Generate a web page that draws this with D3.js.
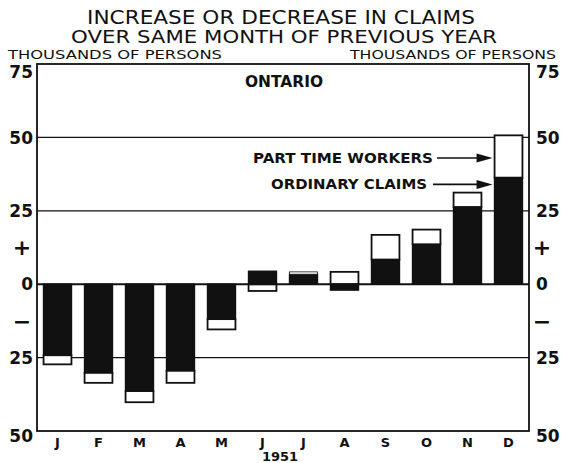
<!DOCTYPE html>
<html>
<head>
<meta charset="utf-8">
<script src="https://cdn.jsdelivr.net/npm/d3@7"></script>
<style>
  html, body { margin: 0; padding: 0; background: #fff; }
  svg text { font-family: "DejaVu Sans", "Liberation Sans", sans-serif; fill: #111; }
</style>
</head>
<body>
<div id="chart"></div>
<script>
const months = ['J', 'F', 'M', 'A', 'M', 'J', 'J', 'A', 'S', 'O', 'N', 'D'];
const ordinary = [-24.2, -30.2, -36.4, -29.5, -11.9, 4.4, 3.4, -2.0, 8.4, 13.6, 26.3, 36.3];
const partTime = [-3.1, -3.4, -3.8, -4.1, -3.5, -2.3, 0.8, 4.2, 8.4, 5.0, 4.9, 14.4];
const yTicks = [75, 50, 25, 0, -25, -50];
const signTicks = [[12.5, '+'], [-12.5, '−']];
const gridVals = [50, 25, -25];

const W = 570, H = 463, m = { t: 64, r: 41, b: 32, l: 37 };
const svg = d3.select('#chart').append('svg').attr('width', W).attr('height', H);

const x = d3.scaleBand().domain(d3.range(12)).range([m.l, W - m.r]).paddingInner(0.32).paddingOuter(0.16);
const y = d3.scaleLinear().domain([-50, 75]).range([H - m.b, m.t]);

// titles
svg.append('text').attr('x', 281).attr('y', 24).attr('text-anchor', 'middle')
  .attr('font-size', 19).attr('textLength', 388).attr('lengthAdjust', 'spacingAndGlyphs')
  .text('INCREASE OR DECREASE IN CLAIMS');
svg.append('text').attr('x', 284).attr('y', 43).attr('text-anchor', 'middle')
  .attr('font-size', 18).attr('textLength', 426).attr('lengthAdjust', 'spacingAndGlyphs')
  .text('OVER SAME MONTH OF PREVIOUS YEAR');
svg.append('text').attr('x', 8).attr('y', 59).attr('font-size', 12)
  .attr('textLength', 214).attr('lengthAdjust', 'spacingAndGlyphs').text('THOUSANDS OF PERSONS');
svg.append('text').attr('x', 556).attr('y', 59).attr('font-size', 12).attr('text-anchor', 'end')
  .attr('textLength', 206).attr('lengthAdjust', 'spacingAndGlyphs').text('THOUSANDS OF PERSONS');

// gridlines
svg.append('g').selectAll('line').data(gridVals).join('line')
  .attr('x1', m.l).attr('x2', W - m.r).attr('y1', d => y(d)).attr('y2', d => y(d))
  .attr('stroke', '#111').attr('stroke-width', 1.2);

// bars: black = ordinary claims, white = part time workers
const bars = svg.append('g').selectAll('g').data(months.map((mo, i) => ({ i, o: ordinary[i], p: partTime[i] }))).join('g');
bars.append('rect')
  .attr('x', d => x(d.i)).attr('width', x.bandwidth())
  .attr('y', d => y(Math.max(0, d.o))).attr('height', d => Math.abs(y(d.o) - y(0)))
  .attr('fill', '#111').attr('stroke', '#111').attr('stroke-width', 1.5);
bars.append('rect')
  .attr('x', d => x(d.i)).attr('width', x.bandwidth())
  .attr('y', d => {
    const base = Math.sign(d.p) === Math.sign(d.o) ? d.o : 0;
    return y(Math.max(base, base + d.p));
  })
  .attr('height', d => Math.abs(y(d.p) - y(0)))
  .attr('fill', '#fff').attr('stroke', '#111').attr('stroke-width', d => Math.abs(d.p) < 2 ? 0.8 : 1.8);

// zero line
svg.append('line').attr('x1', m.l).attr('x2', W - m.r).attr('y1', y(0)).attr('y2', y(0))
  .attr('stroke', '#111').attr('stroke-width', 2);

// frame
svg.append('rect').attr('x', m.l).attr('y', m.t).attr('width', W - m.l - m.r).attr('height', H - m.t - m.b)
  .attr('fill', 'none').attr('stroke', '#111').attr('stroke-width', 1.8);

// y labels both sides (edge labels nudged inward like the original)
const tickLabel = v => v === 0 ? '0' : String(Math.abs(v));
const nudge = v => v === 75 ? 8 : v === -50 ? 5 : 0;
[[m.l - 4, 'end'], [W - m.r + 7, 'start']].forEach(([xx, anchor]) => {
  svg.append('g').selectAll('text').data(yTicks).join('text')
    .attr('x', xx).attr('y', d => y(d) + nudge(d)).attr('dy', '0.36em').attr('text-anchor', anchor)
    .attr('font-size', 17).attr('font-weight', 'bold').text(tickLabel);
  svg.append('g').selectAll('text').data(signTicks).join('text')
    .attr('x', anchor === 'end' ? xx - 11 : xx + 6).attr('y', d => y(d[0])).attr('dy', '0.36em')
    .attr('text-anchor', 'middle').attr('font-size', 22).attr('font-weight', 'bold').text(d => d[1]);
});

// month labels
svg.append('g').selectAll('text').data(months).join('text')
  .attr('x', (d, i) => x(i) + x.bandwidth() / 2).attr('y', H - m.b + 16).attr('text-anchor', 'middle')
  .attr('font-size', 13).attr('font-weight', 'bold').text(d => d);
svg.append('text').attr('x', 280).attr('y', H - 2).attr('text-anchor', 'middle')
  .attr('font-size', 13).attr('font-weight', 'bold').text('1951');

// ontario label
svg.append('text').attr('x', 245).attr('y', 87).attr('font-size', 15).attr('font-weight', 'bold')
  .attr('textLength', 78).attr('lengthAdjust', 'spacingAndGlyphs').text('ONTARIO');

// legend annotations with arrows
const tipX = x(11) - 2;
const notes = [
  { label: 'PART TIME WORKERS', v: 43, x0: 253, x1: 433, a0: 437 },
  { label: 'ORDINARY CLAIMS', v: 34, x0: 271, x1: 427, a0: 433 }
];
notes.forEach(n => {
  const yy = y(n.v);
  svg.append('text').attr('x', n.x0).attr('y', yy + 5).attr('font-size', 14).attr('font-weight', 'bold')
    .attr('textLength', n.x1 - n.x0).attr('lengthAdjust', 'spacingAndGlyphs').text(n.label);
  svg.append('line').attr('x1', n.a0).attr('x2', tipX - 12).attr('y1', yy).attr('y2', yy)
    .attr('stroke', '#111').attr('stroke-width', 1.6);
  svg.append('path').attr('d', `M${tipX - 16},${yy - 4.5}L${tipX},${yy}L${tipX - 16},${yy + 4.5}Z`).attr('fill', '#111');
});
</script>
</body>
</html>
